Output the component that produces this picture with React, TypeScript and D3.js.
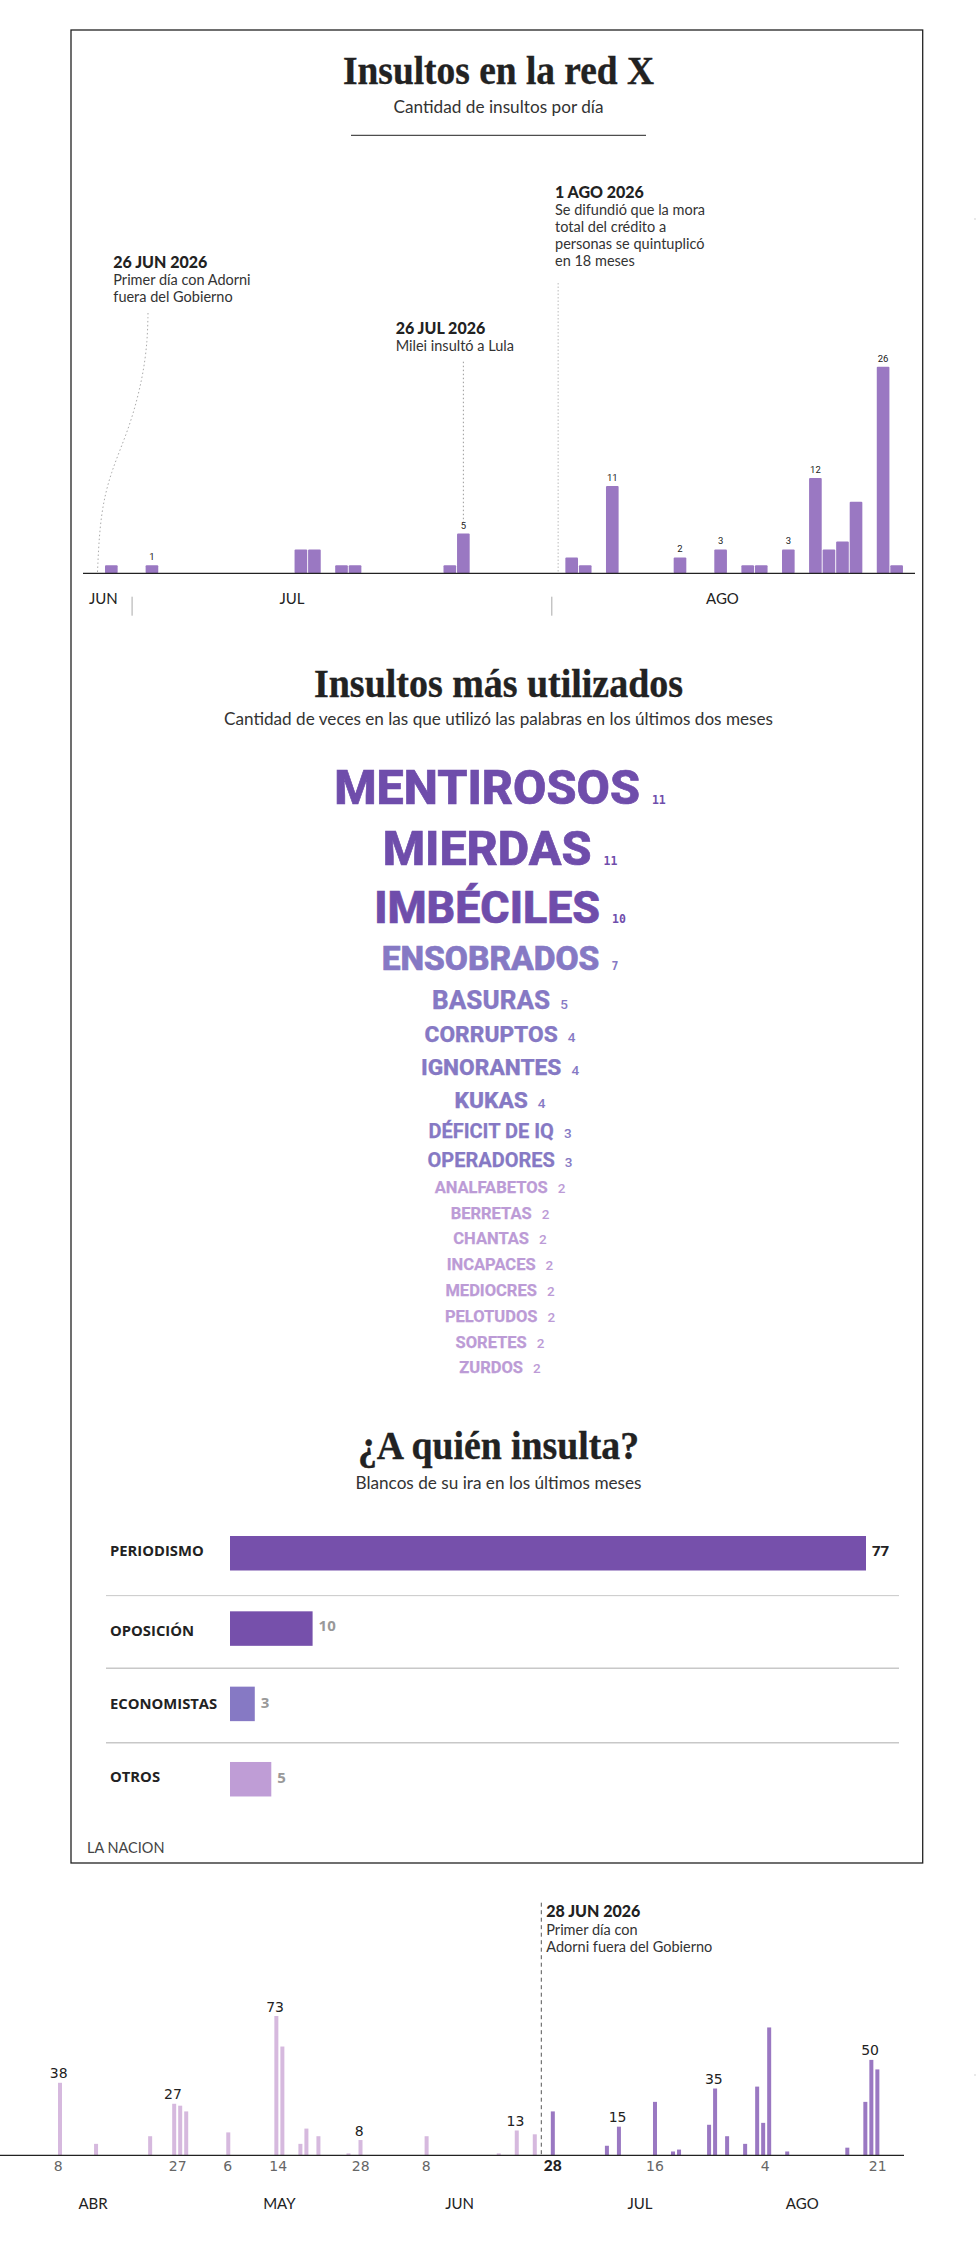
import * as d3 from "d3"

const parseDay = d3.utcParse("%Y-%m-%d")
const day = (s: string) => parseDay(s) as Date

// Insultos por dia
const dailyDates = [
  "2026-06-29", "2026-07-02", "2026-07-13", "2026-07-14", "2026-07-16", "2026-07-17",
  "2026-07-24", "2026-07-25", "2026-08-02", "2026-08-03", "2026-08-05", "2026-08-10",
  "2026-08-13", "2026-08-15", "2026-08-16", "2026-08-18", "2026-08-20", "2026-08-21",
  "2026-08-22", "2026-08-23", "2026-08-25", "2026-08-26",
]
const dailyCounts = [1, 1, 3, 3, 1, 1, 1, 5, 2, 1, 11, 2, 3, 1, 1, 3, 12, 3, 4, 9, 26, 1]
const dailyLabelled = ["2026-07-02", "2026-07-25", "2026-08-05", "2026-08-10", "2026-08-13", "2026-08-18", "2026-08-20", "2026-08-25"]

const dailyMonths = ["JUN", "JUL", "AGO"]
const dailyMonthStarts = ["2026-07-01", "2026-08-01"]

// Insultos mas utilizados
const insultWords = [
  "MENTIROSOS", "MIERDAS", "IMBÉCILES", "ENSOBRADOS", "BASURAS", "CORRUPTOS", "IGNORANTES", "KUKAS",
  "DÉFICIT DE IQ", "OPERADORES", "ANALFABETOS", "BERRETAS", "CHANTAS", "INCAPACES", "MEDIOCRES",
  "PELOTUDOS", "SORETES", "ZURDOS",
]
const insultCounts = [11, 11, 10, 7, 5, 4, 4, 4, 3, 3, 2, 2, 2, 2, 2, 2, 2, 2]

// A quien insulta
const targetNames = ["PERIODISMO", "OPOSICIÓN", "ECONOMISTAS", "OTROS"]
const targetValues = [77, 10, 3, 5]

// Serie larga, abril a agosto
const longDates = [
  "2026-04-08", "2026-04-14", "2026-04-23", "2026-04-27", "2026-04-28", "2026-04-29", "2026-05-06",
  "2026-05-14", "2026-05-15", "2026-05-18", "2026-05-19", "2026-05-21", "2026-05-26", "2026-05-28",
  "2026-06-08", "2026-06-20", "2026-06-23", "2026-06-26", "2026-06-29", "2026-07-08", "2026-07-10",
  "2026-07-16", "2026-07-19", "2026-07-20", "2026-07-25", "2026-07-26", "2026-07-28", "2026-07-31",
  "2026-08-02", "2026-08-03", "2026-08-04", "2026-08-07", "2026-08-17", "2026-08-20", "2026-08-21",
  "2026-08-22",
]
const longCounts = [
  38, 6, 10, 27, 26, 23, 12, 73, 57, 6, 14, 10, 1, 8, 10, 1, 13, 11, 23, 5, 15, 28, 2, 3, 16, 35, 10, 6,
  36, 17, 67, 2, 4, 28, 50, 45,
]
const longLabelled = ["2026-04-08", "2026-04-27", "2026-05-14", "2026-05-28", "2026-06-23", "2026-07-10", "2026-07-26", "2026-08-21"]
const longTicks = ["2026-04-08", "2026-04-27", "2026-05-06", "2026-05-14", "2026-05-28", "2026-06-08", "2026-06-28", "2026-07-16", "2026-08-04", "2026-08-21"]
const longTickLabels = ["8", "27", "6", "14", "28", "8", "28", "16", "4", "21"]
const longTickNudge = [-1.7, 3.5, -0.6, 1.9, 0.2, -0.3, 5.9, 0, -3.9, 6.3]
const longMonths = ["ABR", "MAY", "JUN", "JUL", "AGO"]
const longMonthCentres = ["2026-04-14", "2026-05-15", "2026-06-14", "2026-07-14", "2026-08-10"]

const SANS = "Lato, 'Noto Sans', sans-serif"
const SERIF = "'Liberation Serif', serif"
const INK = "#222"
const PURPLE = "#9a78c2"
const PURPLE_LIGHT = "#d6b9de"
const ADORNI_DAY = day("2026-06-27")

const DAY_TOP = 13.54
const xDaily = d3.scaleUtc().domain([day("2026-06-28"), day("2026-08-28")]).range([91.46, 91.46 + 61 * DAY_TOP])
const yDaily = d3.scaleLinear().domain([0, 26]).range([573.3, 366.7])

const DAY_LONG = 6.01
const xLong = d3.scaleUtc().domain([day("2026-04-08"), day("2026-08-28")]).range([58, 58 + 142 * DAY_LONG])
const yLong = d3.scaleLinear().domain([0, 73]).range([2155.3, 2016])

const xTarget = d3.scaleLinear().domain([0, 77]).range([230, 866])
const yTarget = d3.scaleBand<string>().domain(targetNames).range([1536, 1837.3])

// look of each word by its count
const wordSize = d3.scaleOrdinal<number, number>().domain([11, 10, 7, 5, 4, 3, 2]).range([48.4, 44.7, 33.5, 26, 22.7, 20, 16.5])
const wordColor = d3
  .scaleOrdinal<number, string>()
  .domain([11, 10, 7, 5, 4, 3, 2])
  .range(["#6f4dab", "#6f4dab", "#8679c4", "#8679c4", "#8679c4", "#8679c4", "#bc9bd6"])
const wordStep = d3.scaleOrdinal<number, number>().domain([11, 10, 7, 5, 4, 3, 2]).range([61, 57.7, 47.3, 38.7, 33.1, 29.5, 25.8])
const wordY = insultCounts.map((c, i) => 743 + d3.sum(insultCounts.slice(0, i + 1), (v) => wordStep(v)))

const targetColors = ["#7650ab", "#7650ab", "#8679c4", "#bf9dd6"]
const targetLabelDy = [19.7, 24.7, 22, 19.7]
const targetValueDy = [19.7, 19.7, 21, 20.7]
const targetRuleLift = [0, 15.7, 18.3, 19.3]

const leaderLine = d3.line().curve(d3.curveBasis)
const adorniLeader: [number, number][] = [
  [148, 313],
  [147.5, 340],
  [143, 377],
  [130, 427],
  [110, 473],
  [100, 517],
  [xDaily(day("2026-06-28")) + 6, 573],
]

function Note({ x, y, head, lines }: { x: number; y: number; head: string; lines: string[] }) {
  return (
    <g fontFamily={SANS} fill={INK}>
      <text x={x} y={y} fontSize={16} fontWeight={900}>
        {head}
      </text>
      {lines.map((line, i) => (
        <text key={line} x={x} y={y + 17.3 + i * 17} fontSize={14.5} fill="#333">
          {line}
        </text>
      ))}
    </g>
  )
}

function Heading({ y, width, children }: { y: number; width: number; children: string }) {
  return (
    <text
      x={498.5}
      y={y}
      textAnchor="middle"
      fontFamily={SERIF}
      fontWeight={700}
      fontSize={39}
      fill={INK}
      stroke={INK}
      strokeWidth={0.35}
      textLength={width}
      lengthAdjust="spacingAndGlyphs"
    >
      {children}
    </text>
  )
}

function Subheading({ y, width, children }: { y: number; width: number; children: string }) {
  return (
    <text
      x={498.5}
      y={y}
      textAnchor="middle"
      fontFamily={SANS}
      fontSize={16.5}
      fill="#333"
      textLength={width}
      lengthAdjust="spacingAndGlyphs"
    >
      {children}
    </text>
  )
}

export default function App() {
  const topW = DAY_TOP - 0.9
  const longW = 4

  return (
    <svg width={976} height={2266} style={{ position: "absolute", left: 0, top: 0, background: "#fff" }}>
      <rect x={71} y={30} width={851.7} height={1833} fill="none" stroke={INK} strokeWidth={1.3} />

      {/* Insultos en la red X */}
      <Heading y={84} width={311}>
        Insultos en la red X
      </Heading>
      <Subheading y={113} width={210}>
        Cantidad de insultos por día
      </Subheading>
      <line x1={351} x2={646} y1={135.3} y2={135.3} stroke={INK} strokeWidth={1} />

      <path d={leaderLine(adorniLeader) as string} fill="none" stroke="#aaa" strokeWidth={1} strokeDasharray="1.5 2.5" />
      <line
        x1={xDaily(day("2026-07-25")) + topW / 2}
        x2={xDaily(day("2026-07-25")) + topW / 2}
        y1={361.7}
        y2={522}
        stroke="#999"
        strokeWidth={1}
        strokeDasharray="1.5 2.5"
      />
      <line
        x1={xDaily(day("2026-08-01")) + topW / 2}
        x2={xDaily(day("2026-08-01")) + topW / 2}
        y1={283}
        y2={573}
        stroke="#bbb"
        strokeWidth={1}
        strokeDasharray="1.5 2"
      />

      {dailyDates.map((d, i) => (
        <rect
          key={d}
          x={xDaily(day(d))}
          y={yDaily(dailyCounts[i])}
          width={topW}
          height={yDaily(0) - yDaily(dailyCounts[i])}
          rx={1}
          fill={PURPLE}
        />
      ))}
      {dailyDates.map((d, i) =>
        dailyLabelled.includes(d) ? (
          <text
            key={d}
            x={xDaily(day(d)) + topW / 2}
            y={yDaily(dailyCounts[i]) - 5}
            textAnchor="middle"
            fontFamily="Roboto, sans-serif"
            fontSize={9.5}
            fill={INK}
          >
            {dailyCounts[i]}
          </text>
        ) : null,
      )}
      <line x1={83} x2={915} y1={573.3} y2={573.3} stroke={INK} strokeWidth={1.3} />
      {dailyMonthStarts.map((d) => (
        <line key={d} x1={xDaily(day(d))} x2={xDaily(day(d))} y1={596.7} y2={615.7} stroke="#aaa" strokeWidth={1} />
      ))}
      {dailyMonths.map((m, i) => (
        <text key={m} x={[89, 279.5, 706][i]} y={604} fontFamily={SANS} fontSize={15} fill={INK}>
          {m}
        </text>
      ))}

      <Note x={113.3} y={267.7} head="26 JUN 2026" lines={["Primer día con Adorni", "fuera del Gobierno"]} />
      <Note x={395.7} y={334} head="26 JUL 2026" lines={["Milei insultó a Lula"]} />
      <Note
        x={555}
        y={197.7}
        head="1 AGO 2026"
        lines={["Se difundió que la mora", "total del crédito a", "personas se quintuplicó", "en 18 meses"]}
      />

      {/* Insultos mas utilizados */}
      <Heading y={696.7} width={369}>
        Insultos más utilizados
      </Heading>
      <Subheading y={725} width={549}>
        Cantidad de veces en las que utilizó las palabras en los últimos dos meses
      </Subheading>
      {insultWords.map((w, i) => {
        const c = insultCounts[i]
        const big = c >= 7
        return (
          <text key={w} x={500} y={wordY[i]} textAnchor="middle" fill={wordColor(c)} fontFamily="Roboto, sans-serif">
            <tspan
              fontSize={wordSize(c)}
              fontWeight={c >= 4 ? 800 : 700}
              stroke={wordColor(c)}
              strokeWidth={big ? 0.7 : 0.25}
            >
              {w}
            </tspan>
            <tspan
              dx={big ? 12 : 10}
              fontSize={big ? 11.5 : 13.5}
              fontWeight={big ? 700 : 500}
              fontFamily={big ? "'DejaVu Sans Mono', monospace" : "Roboto, sans-serif"}
            >
              {c}
            </tspan>
          </text>
        )
      })}

      {/* A quien insulta */}
      <Heading y={1459.3} width={281}>
        ¿A quién insulta?
      </Heading>
      <Subheading y={1488.7} width={286}>
        Blancos de su ira en los últimos meses
      </Subheading>
      {targetNames.slice(1).map((t, i) => (
        <line
          key={t}
          x1={106}
          x2={899}
          y1={(yTarget(t) as number) - targetRuleLift[i + 1]}
          y2={(yTarget(t) as number) - targetRuleLift[i + 1]}
          stroke="#c8c8c8"
          strokeWidth={i === 0 ? 1 : 1.5}
        />
      ))}
      {targetNames.map((t, i) => (
        <g key={t}>
          <rect
            x={xTarget(0)}
            y={yTarget(t) as number}
            width={xTarget(targetValues[i]) - xTarget(0)}
            height={34.5}
            fill={targetColors[i]}
          />
          <text
            x={110}
            y={(yTarget(t) as number) + targetLabelDy[i]}
            fontFamily="'Open Sans', sans-serif"
            fontWeight={700}
            fontSize={14.8}
            fill={INK}
          >
            {t}
          </text>
          <text
            x={xTarget(targetValues[i]) + 6}
            y={(yTarget(t) as number) + targetValueDy[i]}
            fontFamily="'Open Sans', sans-serif"
            fontWeight={700}
            fontSize={15}
            fill={i === 0 ? INK : "#999"}
          >
            {targetValues[i]}
          </text>
        </g>
      ))}
      <text x={87} y={1853} fontFamily={SANS} fontSize={14.5} fill="#444">
        LA NACION
      </text>

      {/* Serie larga */}
      <line
        x1={xLong(ADORNI_DAY) + 2.5}
        x2={xLong(ADORNI_DAY) + 2.5}
        y1={1902.7}
        y2={2155}
        stroke="#555"
        strokeWidth={1}
        strokeDasharray="4 3.5"
      />
      {longDates.map((d, i) => (
        <rect
          key={d}
          x={xLong(day(d))}
          y={yLong(longCounts[i])}
          width={longW}
          height={yLong(0) - yLong(longCounts[i])}
          fill={day(d) < ADORNI_DAY ? PURPLE_LIGHT : PURPLE}
        />
      ))}
      {longDates.map((d, i) =>
        longLabelled.includes(d) ? (
          <text
            key={d}
            x={xLong(day(d)) + longW / 2 - 1.3}
            y={yLong(longCounts[i]) - 4.5}
            textAnchor="middle"
            fontFamily="'DejaVu Sans', sans-serif"
            fontSize={14}
            fill={INK}
          >
            {longCounts[i]}
          </text>
        ) : null,
      )}
      <line x1={0} x2={904} y1={2155.3} y2={2155.3} stroke={INK} strokeWidth={1.2} />
      {longTicks.map((d, i) => {
        const bold = i === 6
        return (
          <text
            key={d}
            x={xLong(day(d)) + longW / 2 + longTickNudge[i]}
            y={2170.7}
            textAnchor="middle"
            fontFamily={bold ? SANS : "'DejaVu Sans', sans-serif"}
            fontWeight={bold ? 900 : 400}
            fontSize={bold ? 15.5 : 14}
            fill={bold ? INK : "#666"}
          >
            {longTickLabels[i]}
          </text>
        )
      })}
      {longMonths.map((m, i) => (
        <text
          key={m}
          x={xLong(day(longMonthCentres[i])) - 1}
          y={2209.3}
          textAnchor="middle"
          fontFamily={SANS}
          fontSize={15}
          fill={INK}
        >
          {m}
        </text>
      ))}
      <Note x={546.3} y={1917.3} head="28 JUN 2026" lines={["Primer día con", "Adorni fuera del Gobierno"]} />

      {/* specks at the right edge of the page */}
      <circle cx={975} cy={219} r={0.8} fill="#ccc" />
      <circle cx={975} cy={2075} r={0.8} fill="#ccc" />
    </svg>
  )
}
